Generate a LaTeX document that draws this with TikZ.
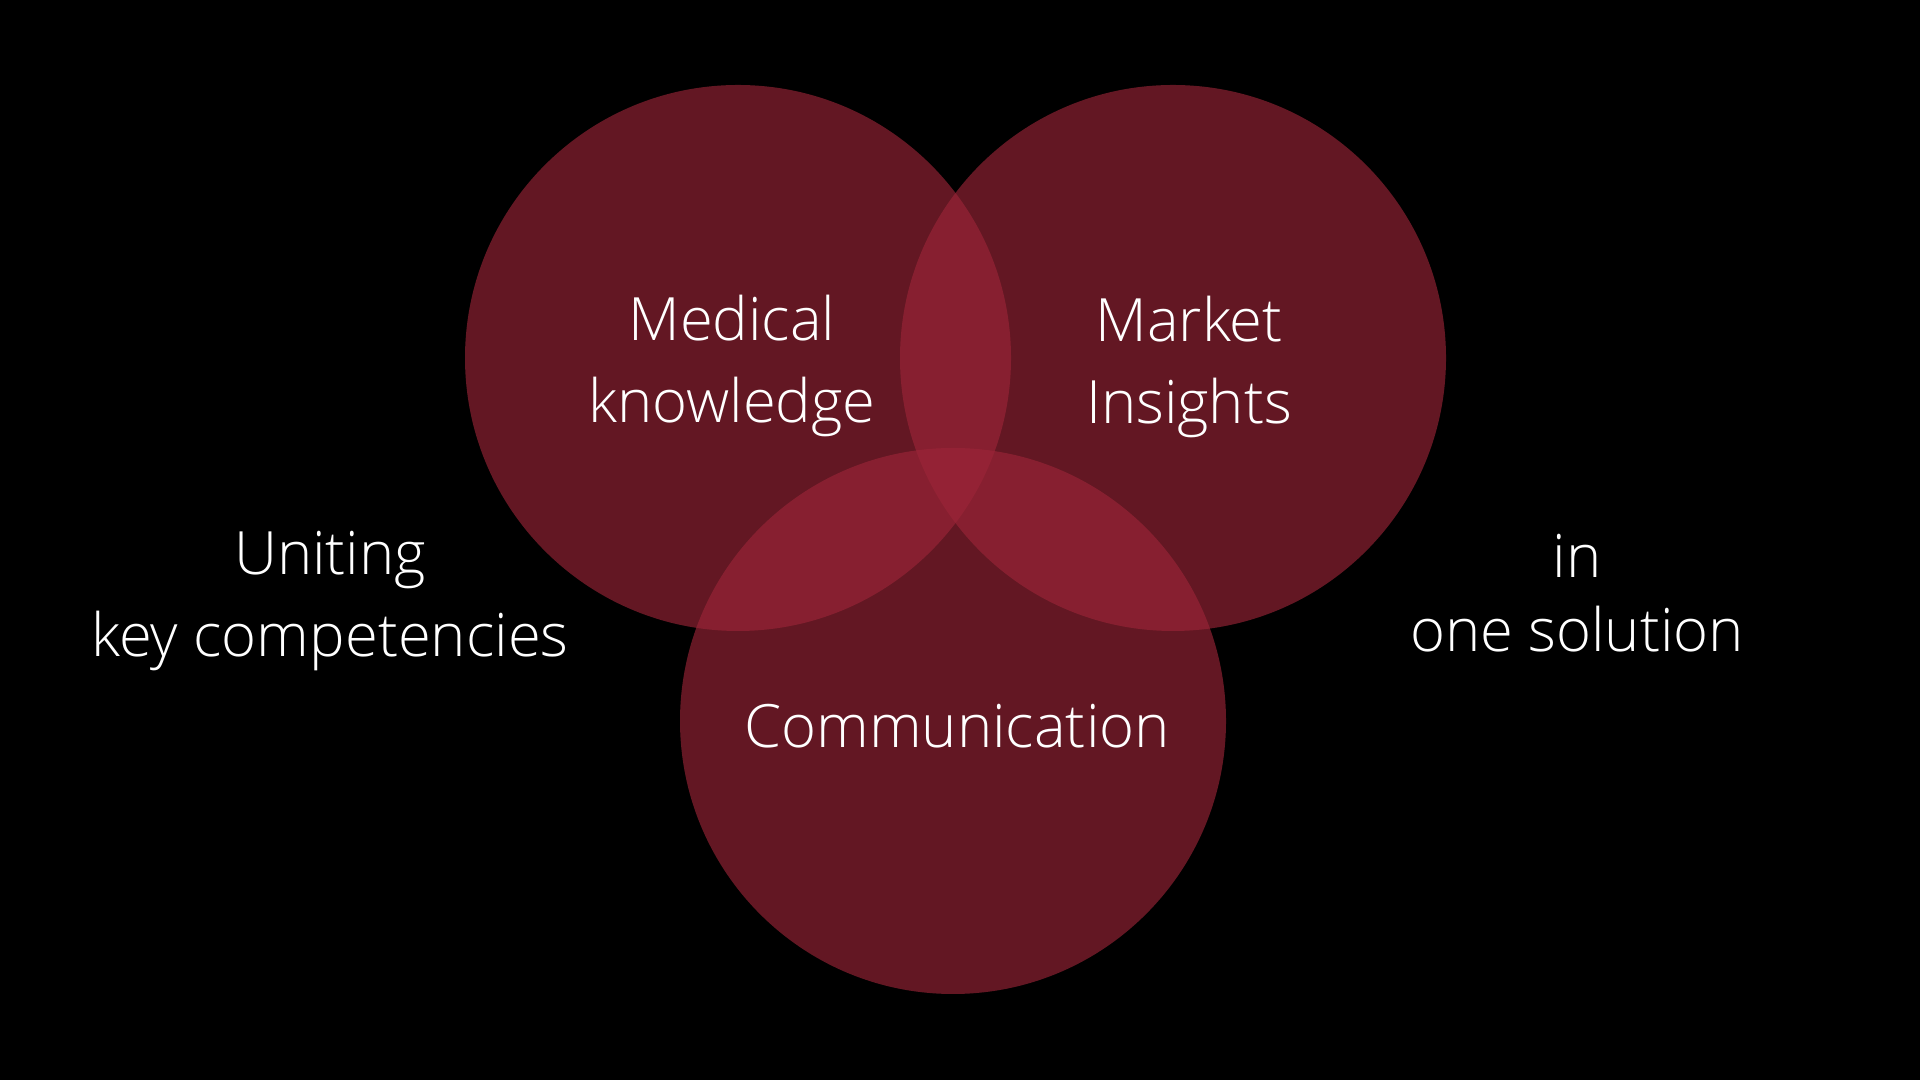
\documentclass[tikz,border=0pt]{standalone}
\usepackage{fontspec}
\setmainfont{Open Sans Light}
\definecolor{vennred}{RGB}{157,37,56}
\tikzset{
  setdisc/.style={fill=vennred, fill opacity=0.63},
  settext/.style={text=white, align=center, anchor=base,
    font=\fontsize{17.0}{23.6}\selectfont},
}
\begin{document}
\begin{tikzpicture}
    % Background
    \fill[black] (0,0) rectangle (19.2,10.8);
    
    % The three sets
    \fill[setdisc] (7.38,7.22) circle (2.73);
    \fill[setdisc] (11.73,7.22) circle (2.73);
    \fill[setdisc] (9.53,3.59) circle (2.73);
    
    % Labels
    \node[settext] (medical) at (7.32,6.57) {Medical\\knowledge};
    \node[settext] (market) at (11.89,6.56) {Market\\Insights};
    \node[settext] (comm) at (9.57,3.32) {Communication};
    \node[settext] (uniting) at (3.30,4.23) {Uniting\\key competencies};
    \node[settext, font=\fontsize{17.0}{21.3}\selectfont] (solution) at (15.77,4.28) {in\\one solution};
\end{tikzpicture}
\end{document}
